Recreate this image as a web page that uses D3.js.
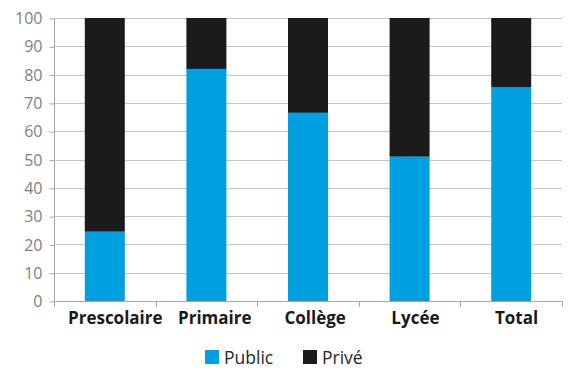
<!DOCTYPE html>
<html>
<head>
<meta charset="UTF-8">
<title>Public / Privé</title>
<script src="https://cdn.jsdelivr.net/npm/d3@7"></script>
<style>
body { margin: 0; background: #fff; }
</style>
</head>
<body>
<div id="chart"></div>
<script>

// data
var categories = ["Prescolaire", "Primaire", "Collège", "Lycée", "Total"]
var publicValues = [24.5, 82, 66.5, 51, 75.5]
var priveValues = [75.5, 18, 33.5, 49, 24.5]
var yTicks = [0, 10, 20, 30, 40, 50, 60, 70, 80, 90, 100]
var seriesNames = ["Public", "Privé"]

var colors = { "Public": "#009FE0", "Privé": "#1C1A1D" }

var chartW = 568, chartH = 368
var plotLeft = 54, plotRight = 562, plotTop = 18, plotBottom = 301

var svg = d3.select("#chart").append("svg")
	.attr("width", chartW)
	.attr("height", chartH)

var x = d3.scaleBand().domain(categories).range([plotLeft, plotRight]).paddingInner(0).paddingOuter(0)
var y = d3.scaleLinear().domain([0, 100]).range([plotBottom, plotTop])

// gridlines
svg.append("g").selectAll("line")
	.data(yTicks.filter(function(d) { return d > 0 }))
	.enter().append("line")
	.attr("x1", plotLeft).attr("x2", plotRight)
	.attr("y1", function(d) { return Math.round(y(d)) + 0.5 })
	.attr("y2", function(d) { return Math.round(y(d)) + 0.5 })
	.attr("stroke", "#c6c6c6")
	.attr("stroke-width", 1)

// stacked bars
var rows = categories.map(function(c, i) {
	return { cat: c, Public: publicValues[i], "Privé": priveValues[i] }
})
var stack = d3.stack().keys(seriesNames)(rows)
var barW = 40

svg.append("g").selectAll("g")
	.data(stack).enter().append("g")
	.attr("fill", function(d) { return colors[d.key] })
	.selectAll("rect")
	.data(function(d) { return d }).enter().append("rect")
	.attr("x", function(d) { return x(d.data.cat) + x.bandwidth() / 2 - barW / 2 })
	.attr("width", barW)
	.attr("y", function(d) { return y(d[1]) })
	.attr("height", function(d) { return y(d[0]) - y(d[1]) })

// y axis
var yAxis = svg.append("g")
	.attr("transform", "translate(" + (plotLeft + 0.5) + ",0.5)")
	.call(d3.axisLeft(y).tickValues(yTicks).tickSize(5).tickPadding(7))
yAxis.select(".domain").attr("stroke", "#a6a6a6").attr("d", "M0," + plotTop + "V" + plotBottom)
yAxis.selectAll(".tick line").attr("stroke", "#a6a6a6")
yAxis.selectAll("text")
	.attr("fill", "#7f7f7f")
	.style("font-family", "'Open Sans', sans-serif")
	.style("font-size", "16px")

// x axis
var xAxis = svg.append("g")
	.attr("transform", "translate(0," + (plotBottom + 0.5) + ")")
	.call(d3.axisBottom(x).tickSize(0))
xAxis.select(".domain").attr("stroke", "#a6a6a6").attr("d", "M" + plotLeft + ",0H" + plotRight)
xAxis.selectAll("text")
	.attr("y", 22)
	.attr("dy", 0)
	.attr("fill", "#1a1a1a")
	.style("font-family", "'Open Sans', sans-serif")
	.style("font-weight", "bold")
	.style("font-size", "17px")
// labels in the original sit a bit right of the band centre, more so for long ones
xAxis.selectAll("text")
	.attr("dx", function() { return 0.1 * this.getComputedTextLength() + 1 })

// band separator ticks
svg.append("g").selectAll("line")
	.data(categories.concat(["end"]))
	.enter().append("line")
	.attr("x1", function(d, i) { return Math.round(plotLeft + i * x.bandwidth()) + 0.5 })
	.attr("x2", function(d, i) { return Math.round(plotLeft + i * x.bandwidth()) + 0.5 })
	.attr("y1", plotBottom).attr("y2", plotBottom + 6)
	.attr("stroke", "#a6a6a6")

// legend
var legend = svg.append("g").selectAll("g")
	.data(seriesNames).enter().append("g")
	.attr("transform", function(d, i) { return "translate(" + (205 + i * 98) + ",350)" })
legend.append("rect")
	.attr("width", 14).attr("height", 14)
	.attr("fill", function(d) { return colors[d] })
legend.append("text")
	.attr("x", 19).attr("y", 14)
	.attr("fill", "#262626")
	.style("font-family", "'Open Sans', sans-serif")
	.style("font-size", "17.5px")
	.text(function(d) { return d })

</script>
</body>
</html>
